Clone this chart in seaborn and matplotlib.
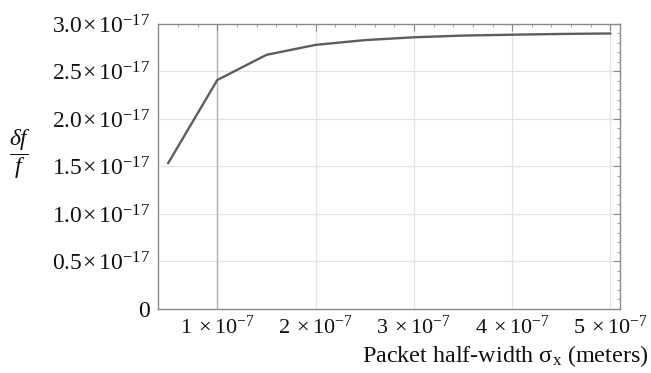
import matplotlib
matplotlib.use("Agg")
import matplotlib.pyplot as plt
from matplotlib.ticker import FixedLocator, MultipleLocator
import seaborn as sns
import pandas as pd

# Data
sigma_x = [0.5e-7, 1.0e-7, 1.5e-7, 2.0e-7, 2.5e-7, 3.0e-7, 3.5e-7, 4.0e-7, 4.5e-7, 5.0e-7]
df_f = [1.534e-17, 2.41e-17, 2.675e-17, 2.78e-17, 2.83e-17, 2.86e-17, 2.878e-17, 2.887e-17, 2.895e-17, 2.90e-17]

x_ticks = [1e-7, 2e-7, 3e-7, 4e-7, 5e-7]
x_tick_labels = [r"$1\;\times 10^{-7}$", r"$2\;\times 10^{-7}$", r"$3\;\times 10^{-7}$",
                 r"$4\;\times 10^{-7}$", r"$5\;\times 10^{-7}$"]
y_ticks = [0, 0.5e-17, 1.0e-17, 1.5e-17, 2.0e-17, 2.5e-17, 3.0e-17]
y_tick_labels = ["0", r"$0.5\!\times 10^{-17}$", r"$1.0\!\times 10^{-17}$", r"$1.5\!\times 10^{-17}$",
                 r"$2.0\!\times 10^{-17}$", r"$2.5\!\times 10^{-17}$", r"$3.0\!\times 10^{-17}$"]

sns.set_theme(style="white")
plt.rcParams["font.family"] = ["Liberation Serif", "DejaVu Serif"]
plt.rcParams["mathtext.fontset"] = "custom"
plt.rcParams["mathtext.rm"] = "Liberation Serif"
plt.rcParams["mathtext.it"] = "Liberation Serif:italic"
plt.rcParams["mathtext.bf"] = "Liberation Serif:bold"

df = pd.DataFrame({"sigma": sigma_x, "dff": df_f})

fig = plt.figure(figsize=(6.51, 3.73), dpi=100)
ax = fig.add_axes([158 / 651, 1 - 309 / 373, (620 - 158) / 651, (309 - 23.5) / 373])

# grid lines
for xv in x_ticks:
    ax.axvline(xv, color="#e3e3e3", lw=0.9, zorder=0)
for yv in y_ticks[1:]:
    ax.axhline(yv, color="#e3e3e3", lw=0.9, zorder=0)
ax.axvline(1e-7, color="#b5b5b5", lw=1.0, zorder=0.5)

sns.lineplot(data=df, x="sigma", y="dff", ax=ax, color="#5e5e5e", lw=1.7, zorder=3)

ax.set_xlim(0.397e-7, 5.097e-7)
ax.set_ylim(0, 3.005e-17)

ax.xaxis.set_major_locator(FixedLocator(x_ticks))
ax.set_xticklabels(x_tick_labels)
ax.xaxis.set_minor_locator(MultipleLocator(0.2e-7))
ax.yaxis.set_major_locator(FixedLocator(y_ticks))
ax.set_yticklabels(y_tick_labels)
ax.yaxis.set_minor_locator(MultipleLocator(0.1e-17))

for s in ax.spines.values():
    s.set_color("#8a8a8a")
    s.set_linewidth(1.0)

ax.tick_params(which="both", direction="in", top=True, right=True, colors="#8a8a8a",
               labelcolor="#111111")
ax.tick_params(which="major", length=5, width=0.8)
ax.tick_params(which="minor", length=2.5, width=0.6)
ax.tick_params(axis="y", pad=6, labelsize=17)
ax.tick_params(axis="x", pad=5, labelsize=16)

ax.set_xlabel("")
ax.set_ylabel("")

fig.text(0.996, 0.012, r"Packet half-width σ$_\mathrm{x}$ (meters)", ha="right", va="bottom",
         fontsize=17.4, color="#111111")
fig.text(0.031, 0.585, r"$\dfrac{\delta f}{f}$", ha="center", va="center", fontsize=17, color="#111111")

fig.savefig("out.png", dpi=100)
